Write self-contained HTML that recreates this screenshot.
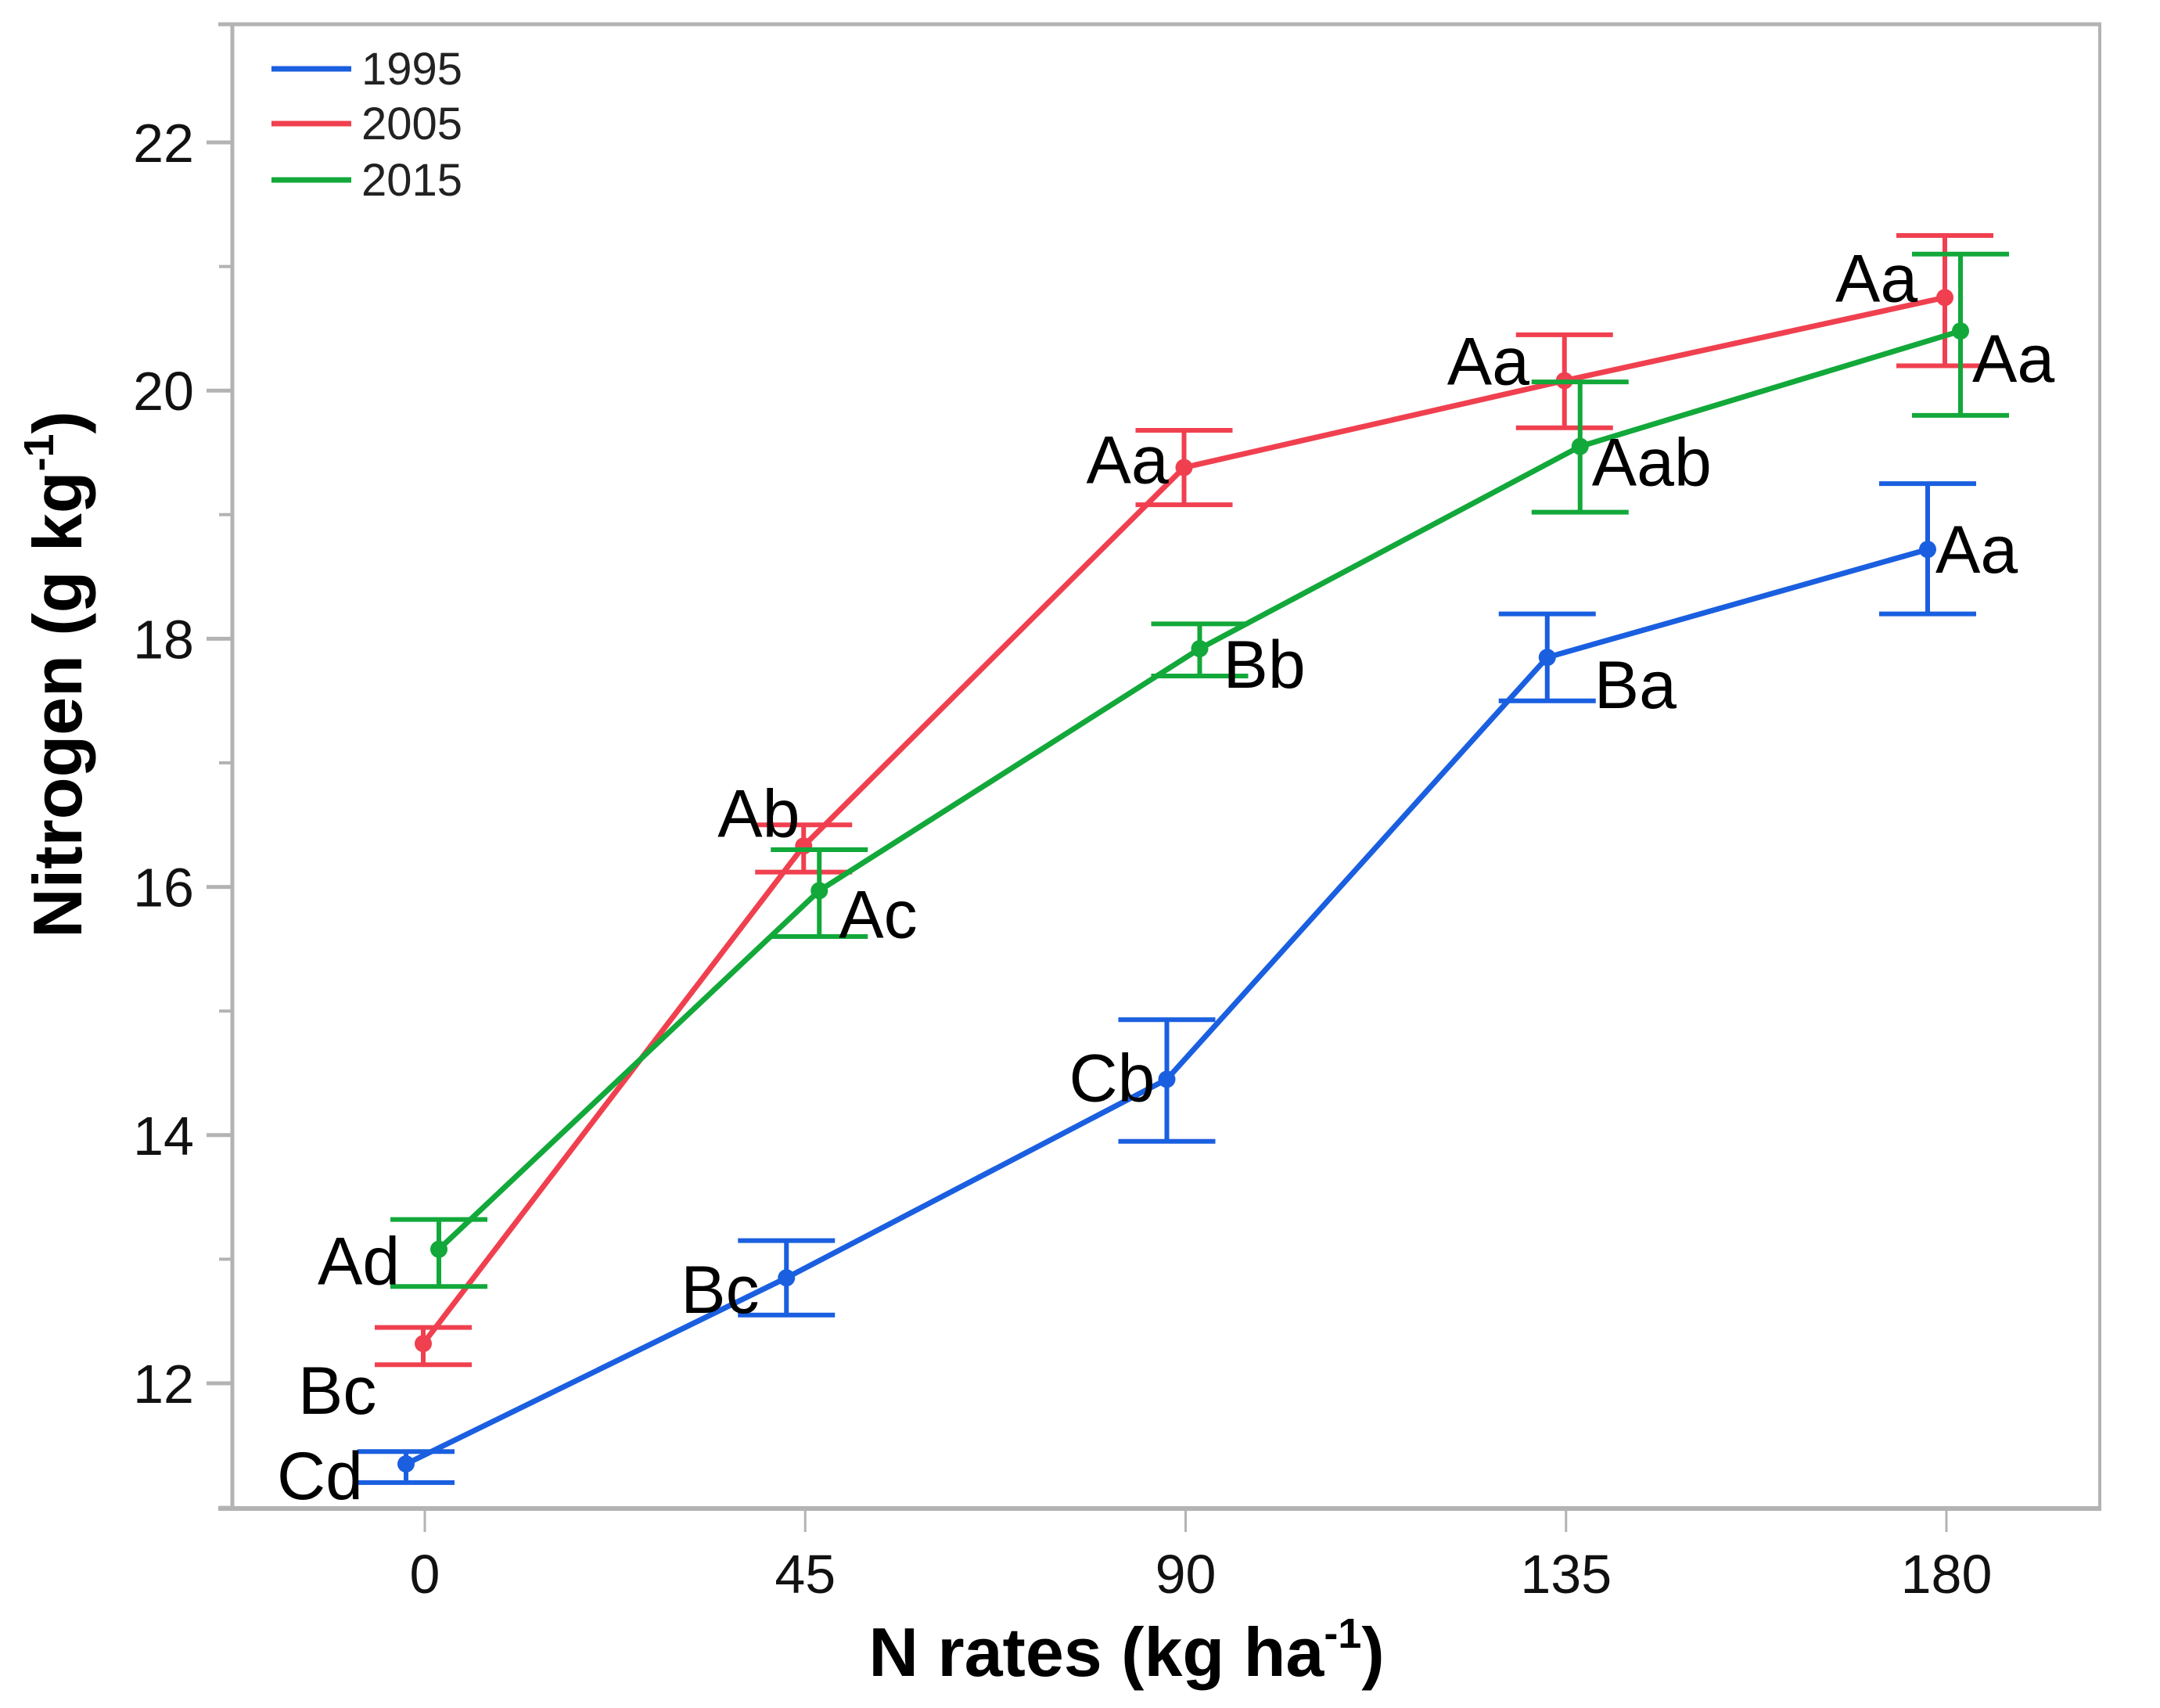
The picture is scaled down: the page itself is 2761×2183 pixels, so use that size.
<!DOCTYPE html>
<html><head><meta charset="utf-8">
<style>html,body{margin:0;padding:0;background:#fff}svg{display:block}</style></head>
<body>
<svg id="chart" width="2761" height="2183" viewBox="0 0 2761 2183" xmlns="http://www.w3.org/2000/svg" font-family="'Liberation Sans', sans-serif">
<g id="frame"></g>
<g id="marks"></g>
<g id="labels"></g>
<text x="1440" y="2142" font-size="88" font-weight="bold" text-anchor="middle">N rates (kg ha<tspan font-size="54" dy="-36">-1</tspan><tspan dy="36">)</tspan></text>
<text transform="translate(104,862) rotate(-90)" font-size="88" font-weight="bold" text-anchor="middle">Nitrogen (g kg<tspan font-size="54" dy="-36">-1</tspan><tspan dy="36">)</tspan></text>
<g>
<line x1="347" y1="88" x2="449" y2="88" stroke="#1a5fe0" stroke-width="7"/>
<text x="462" y="108" font-size="58" fill="#222">1995</text>
<line x1="347" y1="158" x2="449" y2="158" stroke="#f0404f" stroke-width="7"/>
<text x="462" y="178" font-size="58" fill="#222">2005</text>
<line x1="347" y1="230" x2="449" y2="230" stroke="#12a83a" stroke-width="7"/>
<text x="462" y="250" font-size="58" fill="#222">2015</text>
</g>
</svg>
<script>
const categories = [0, 45, 90, 135, 180];
const yTicks = [12, 14, 16, 18, 20, 22];
const mean1995 = [11.35, 12.85, 14.45, 17.85, 18.72];
const lo1995 = [11.2, 12.55, 13.95, 17.5, 18.2];
const hi1995 = [11.45, 13.15, 14.93, 18.2, 19.25];
const mean2005 = [12.32, 16.33, 19.38, 20.08, 20.75];
const lo2005 = [12.15, 16.12, 19.08, 19.7, 20.2];
const hi2005 = [12.45, 16.5, 19.68, 20.45, 21.25];
const mean2015 = [13.08, 15.97, 17.92, 19.55, 20.48];
const lo2015 = [12.78, 15.6, 17.7, 19.02, 19.8];
const hi2015 = [13.32, 16.3, 18.12, 20.07, 21.1];
const labels1995 = ["Cd", "Bc", "Cb", "Ba", "Aa"];
const labels2005 = ["Bc", "Ab", "Aa", "Aa", "Aa"];
const labels2015 = ["Ad", "Ac", "Bb", "Aab", "Aa"];

const NS = "http://www.w3.org/2000/svg";
const X = v => 543 + (v / 180) * (2488 - 543);
const Y = v => 1768 - (v - 12) * (1768 - 182) / 10;
function mk(parent, tag, attrs) {
  const e = document.createElementNS(NS, tag);
  for (const k in attrs) e.setAttribute(k, attrs[k]);
  parent.appendChild(e);
  return e;
}
const frame = document.getElementById('frame');
const gray = "#b3b3b3";
let e;
e = mk(frame, 'line', {x1: 279, y1: 31, x2: 2686, y2: 31, stroke: gray, 'stroke-width': 5});
 
e = mk(frame, 'line', {x1: 2684, y1: 31, x2: 2684, y2: 1928, stroke: gray, 'stroke-width': 4});
 
e = mk(frame, 'line', {x1: 297, y1: 31, x2: 297, y2: 1928, stroke: gray, 'stroke-width': 5});
 
e = mk(frame, 'line', {x1: 279, y1: 1928, x2: 2686, y2: 1928, stroke: gray, 'stroke-width': 6});
 
yTicks.forEach(t => {
  const y = Y(t);
  e = mk(frame, 'line', {x1: 264, y1: y, x2: 297, y2: y, stroke: gray, 'stroke-width': 5});
   
  e = mk(frame, 'line', {x1: 280, y1: Y(t - 1), x2: 297, y2: Y(t - 1), stroke: gray, 'stroke-width': 4});
   
  e = mk(frame, 'text', {x: 248, y: y + 25, 'font-size': 70, 'text-anchor': 'end', fill: '#111'});
  e.textContent = t;
   
});
categories.forEach(c => {
  const x = X(c);
  e = mk(frame, 'line', {x1: x, y1: 1928, x2: x, y2: 1958, stroke: gray, 'stroke-width': 3});
   
  e = mk(frame, 'text', {x: x, y: 2036, 'font-size': 70, 'text-anchor': 'middle', fill: '#111'});
  e.textContent = c;
   
});
const marks = document.getElementById('marks');
const labG = document.getElementById('labels');
const series = [
  {name: '1995', color: '#1a5fe0', off: -24, m: mean1995, lo: lo1995, hi: hi1995, lab: labels1995,
   lp: [[-165, 45], [-135, 45], [-125, 28], [60, 65], [10, 30]]},
  {name: '2005', color: '#f0404f', off: -2, m: mean2005, lo: lo2005, hi: hi2005, lab: labels2005,
   lp: [[-160, 90], [-110, -12], [-125, 20], [-150, 5], [-140, 5]]},
  {name: '2015', color: '#12a83a', off: 18, m: mean2015, lo: lo2015, hi: hi2015, lab: labels2015,
   lp: [[-155, 45], [25, 60], [30, 50], [15, 50], [15, 65]]}
];
series.forEach(s => {
  const pts = categories.map((c, i) => (X(c) + s.off) + ',' + Y(s.m[i])).join(' ');
  e = mk(marks, 'polyline', {points: pts, fill: 'none', stroke: s.color, 'stroke-width': 7, 'stroke-linejoin': 'round'});
   
  categories.forEach((c, i) => {
    const x = X(c) + s.off;
    e = mk(marks, 'path', {d: `M${x - 62},${Y(s.hi[i])}H${x + 62}M${x - 62},${Y(s.lo[i])}H${x + 62}M${x},${Y(s.hi[i])}V${Y(s.lo[i])}`, stroke: s.color, 'stroke-width': 6, fill: 'none'});
     
    e = mk(marks, 'circle', {cx: x, cy: Y(s.m[i]), r: 11, fill: s.color});
     
    e = mk(labG, 'text', {x: x + s.lp[i][0], y: Y(s.m[i]) + s.lp[i][1], 'font-size': 86, fill: '#000'});
    e.textContent = s.lab[i];
     
  });
});
</script>
</body></html>
